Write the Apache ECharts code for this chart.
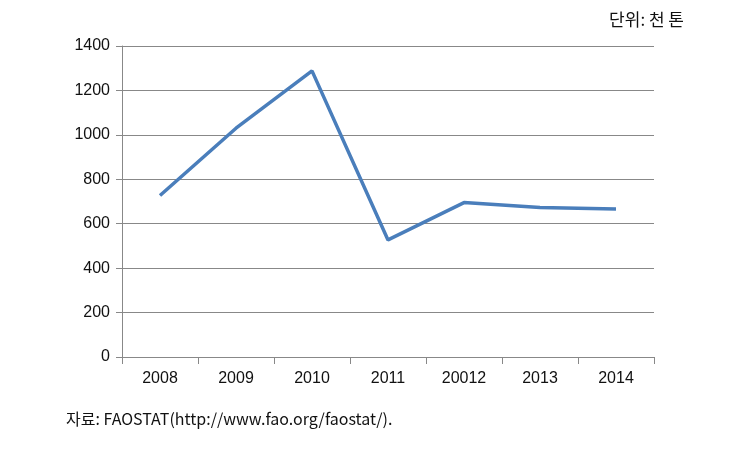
<!DOCTYPE html>
<html>
<head>
<meta charset="utf-8">
<script src="https://cdn.jsdelivr.net/npm/echarts@6/dist/echarts.min.js"></script>
<style>
html,body{margin:0;padding:0;background:#fff;}
#chart{width:746px;height:456px;}
</style>
</head>
<body>
<div id="chart"></div>
<script>
var categories = ['2008', '2009', '2010', '2011', '20012', '2013', '2014'];
var values = [727, 1030, 1288, 527, 695, 673, 666];
var yTicks = [0, 200, 400, 600, 800, 1000, 1200, 1400];
var unitText = '단위: 천 톤';
var sourceText = '자료: FAOSTAT(http://www.fao.org/faostat/).';

var font = "'Liberation Sans', 'Noto Sans CJK KR', Arial, sans-serif";
var chart = echarts.init(document.getElementById('chart'), null, {renderer: 'canvas'});
chart.setOption({
  animation: false,
  backgroundColor: '#fff',
  grid: {left: 122, top: 46, right: 92, bottom: 99, containLabel: false},
  title: [
    {text: unitText, right: 57, top: 6, textStyle: {fontFamily: "'Noto Sans CJK KR', sans-serif", fontSize: 17, fontWeight: 'normal', color: '#111'}},
    {text: sourceText, left: 61, top: 406, textStyle: {fontFamily: "'Noto Sans CJK KR', sans-serif", fontSize: 16, fontWeight: 'normal', color: '#111'}}
  ],
  xAxis: {
    type: 'category',
    data: categories,
    boundaryGap: true,
    axisLine: {show: true, lineStyle: {color: '#888', width: 1}},
    axisTick: {show: true, length: 7, lineStyle: {color: '#888'}, alignWithLabel: false},
    axisLabel: {fontFamily: font, fontSize: 16, color: '#111', margin: 14},
    splitLine: {show: false}
  },
  yAxis: {
    type: 'value',
    min: yTicks[0],
    max: yTicks[yTicks.length - 1],
    interval: yTicks[1] - yTicks[0],
    axisLine: {show: true, lineStyle: {color: '#888', width: 1}},
    axisTick: {show: true, length: 6, lineStyle: {color: '#888'}},
    axisLabel: {fontFamily: font, fontSize: 16, color: '#111', margin: 12, formatter: function (v) { return String(v); }},
    splitLine: {show: true, lineStyle: {color: '#888', width: 1}}
  },
  series: [{
    type: 'line',
    data: values,
    symbol: 'none',
    lineStyle: {color: '#4a7ebb', width: 3.5},
    itemStyle: {color: '#4a7ebb'}
  }]
});
</script>
</body>
</html>
